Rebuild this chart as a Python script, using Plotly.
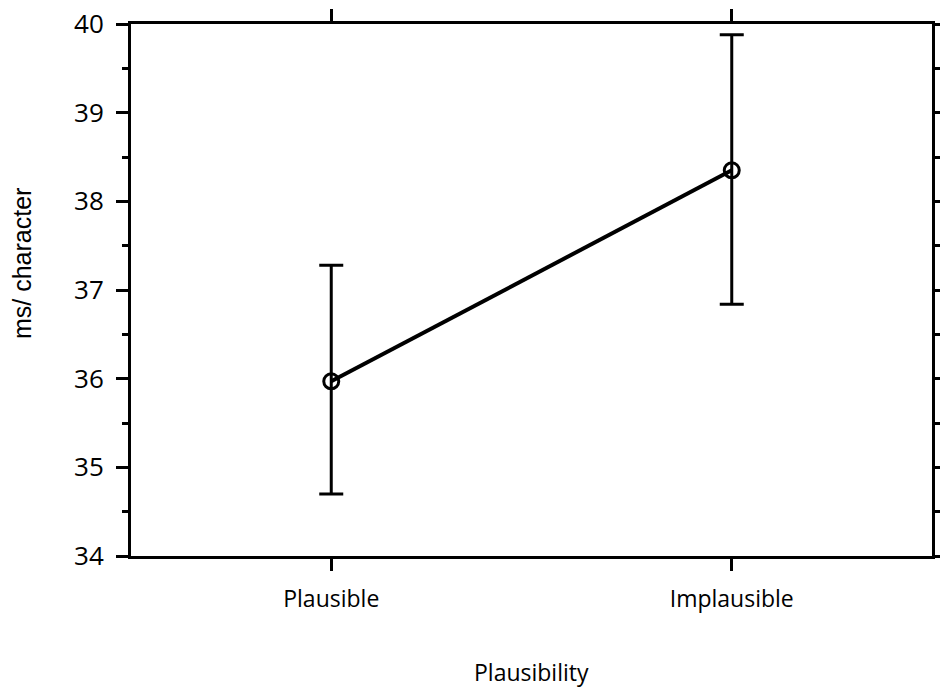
import plotly.graph_objects as go

categories = ["Plausible", "Implausible"]
means = [35.97, 38.35]
upper = [37.28, 39.88]
lower = [34.70, 36.84]
y_ticks = [34, 35, 36, 37, 38, 39, 40]

err_plus = [u - m for u, m in zip(upper, means)]
err_minus = [m - l for m, l in zip(means, lower)]

x_idx = list(range(len(categories)))

fig = go.Figure()
fig.add_trace(go.Scatter(
    x=x_idx, y=means, mode="lines+markers",
    line=dict(color="black", width=4),
    marker=dict(symbol="circle-open", size=15, color="black", line=dict(width=3)),
    error_y=dict(type="data", symmetric=False, array=err_plus, arrayminus=err_minus,
                 color="black", thickness=3, width=12),
    showlegend=False,
))

FONT = "'Open Sans', 'Noto Sans', sans-serif"

fig.update_layout(
    width=940, height=689,
    margin=dict(l=131, r=8, t=24, b=133),
    paper_bgcolor="white", plot_bgcolor="white",
    xaxis=dict(
        range=[-0.5, 1.5], tickvals=x_idx, ticktext=categories,
        showline=True, linecolor="black", linewidth=3, mirror="allticks",
        ticks="outside", ticklen=12, tickwidth=3, tickcolor="black",
        showgrid=False, zeroline=False, automargin=False,
        tickfont=dict(family=FONT, size=23, color="black"),
        ticklabelstandoff=8,
    ),
    yaxis=dict(
        range=[34, 40], tickvals=y_ticks,
        showline=True, linecolor="black", linewidth=3, mirror="allticks",
        ticks="outside", ticklen=12, tickwidth=3, tickcolor="black",
        minor=dict(dtick=0.5, ticks="outside", ticklen=6, tickwidth=3, tickcolor="black"),
        showgrid=False, zeroline=False, automargin=False,
        tickfont=dict(family=FONT, size=26, color="black"),
        ticklabelstandoff=7,
    ),
    annotations=[
        dict(text="Plausibility", xref="paper", yref="paper", x=0.5, y=-0.218,
             xanchor="center", yanchor="middle", showarrow=False,
             font=dict(family=FONT, size=23, color="black")),
        dict(text="ms/ character", xref="paper", yref="paper", x=-0.136, y=0.549,
             xanchor="center", yanchor="middle", showarrow=False, textangle=-90,
             font=dict(family="'Liberation Sans', Arial, sans-serif", size=25, color="black")),
    ],
)

fig.write_html("out.html")
